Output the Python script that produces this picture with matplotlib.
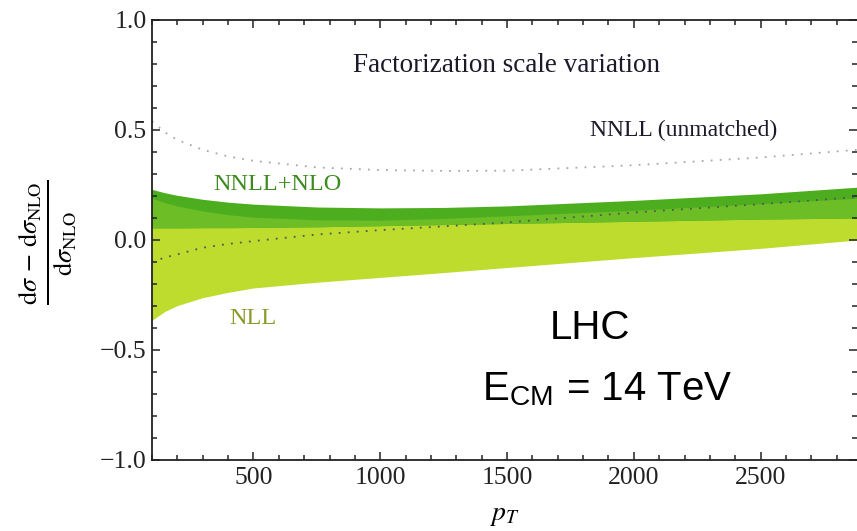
import numpy as np
import matplotlib
matplotlib.use("Agg")
import matplotlib.pyplot as plt
from matplotlib.ticker import MultipleLocator

# transverse momentum grid (GeV)
pt = [100, 150, 200, 300, 400, 500, 750, 1000, 1250, 1500, 2000, 2500, 2880]

# NNLL+NLO band (factorization scale variation)
nnll_nlo_hi = [0.230, 0.215, 0.203, 0.185, 0.172, 0.163, 0.150, 0.146, 0.148, 0.155, 0.180, 0.210, 0.240]
nnll_nlo_lo = [0.055, 0.055, 0.055, 0.056, 0.056, 0.057, 0.060, 0.065, 0.070, 0.075, 0.085, 0.095, 0.100]

# NLL band
nll_hi = [0.190, 0.170, 0.155, 0.132, 0.115, 0.104, 0.092, 0.090, 0.098, 0.110, 0.135, 0.165, 0.190]
nll_lo = [-0.365, -0.325, -0.298, -0.262, -0.238, -0.218, -0.192, -0.170, -0.148, -0.125, -0.080, -0.038, 0.000]

# dotted curves
nnll_unmatched = [0.540, 0.490, 0.455, 0.410, 0.380, 0.360, 0.330, 0.318, 0.314, 0.315, 0.340, 0.375, 0.410]
nll_central = [-0.100, -0.080, -0.065, -0.035, -0.018, -0.005, 0.025, 0.045, 0.062, 0.080, 0.125, 0.163, 0.195]

x_ticks = [500, 1000, 1500, 2000, 2500]
y_ticks = [-1.0, -0.5, 0.0, 0.5, 1.0]

plt.rcParams['mathtext.fontset'] = 'stix'
serif = 'Liberation Serif'

fig = plt.figure(figsize=(8.57, 5.31), dpi=100)
ax = fig.add_axes([152/857, 1 - 460/531, 1 - 152/857, (460 - 20)/531])

c_dark = '#4cae1e'
c_mid = '#6cbd26'
c_light = '#bddc2d'

x = np.array(pt)
ax.fill_between(x, nll_lo, nll_hi, color=c_light, lw=0)
ax.fill_between(x, nnll_nlo_lo, nnll_nlo_hi, color=c_dark, lw=0)
ov_lo = np.maximum(nll_lo, nnll_nlo_lo)
ov_hi = np.minimum(nll_hi, nnll_nlo_hi)
ax.fill_between(x, ov_lo, ov_hi, where=ov_hi > ov_lo, color=c_mid, lw=0)

ax.plot(x, nnll_unmatched, color='#a8a8a8', lw=1.3, ls=(0, (1, 4)))
ax.plot(x, nll_central, color='#555555', lw=1.3, ls=(0, (1, 4)))

ax.set_xlim(100, 2880)
ax.set_ylim(-1.0, 1.0)
ax.set_xticks(x_ticks)
ax.set_yticks(y_ticks)
ax.xaxis.set_minor_locator(MultipleLocator(100))
ax.yaxis.set_minor_locator(MultipleLocator(0.1))
ax.set_xticklabels([str(v) for v in x_ticks], fontfamily=serif, fontsize=18.5)
ax.set_yticklabels(['\u22121.0', '\u22120.5', '0.0', '0.5', '1.0'], fontfamily=serif, fontsize=18.5)
ax.tick_params(which='both', direction='in', top=True, right=True, width=1.1, colors='#222222')
ax.tick_params(axis='y', which='major', length=6, pad=4)
ax.tick_params(axis='x', which='major', length=6, pad=5)
ax.tick_params(which='minor', length=3.5)
for s in ['left', 'bottom', 'top']:
    ax.spines[s].set_linewidth(1.3)
    ax.spines[s].set_color('#222222')
ax.spines['right'].set_visible(False)

ax.set_xlabel(r'$p_T$', fontsize=20, labelpad=8)
ax.set_ylabel(r'$\frac{\mathrm{d}\sigma\,-\,\mathrm{d}\sigma_{\mathrm{NLO}}}{\mathrm{d}\sigma_{\mathrm{NLO}}}$',
              fontsize=27, va='center', ha='center')
ax.yaxis.set_label_coords((48 - 152) / 705, (460 - 242) / 440)

ax.text(1498, 0.795, 'Factorization scale variation', fontfamily=serif, fontsize=19.5,
        ha='center', va='center', color='#1a1a2a')
ax.text(2198, 0.50, 'NNLL (unmatched)', fontfamily=serif, fontsize=17,
        ha='center', va='center', color='#1a1a2a')
ax.text(595, 0.25, 'NNLL+NLO', fontfamily=serif, fontsize=17.5,
        ha='center', va='center', color='#3d8a1e')
ax.text(498, -0.355, 'NLL', fontfamily=serif, fontsize=17.5,
        ha='center', va='center', color='#8a9a2a')

ax.text(1827, -0.40, 'LHC', fontfamily='Liberation Sans', fontsize=29,
        ha='center', va='center', color='black')
ax.text(1897, -0.68, r'E$_{\mathregular{CM}}$ = 14 TeV', fontfamily='Liberation Sans', fontsize=29,
        ha='center', va='center', color='black')

fig.savefig('out.png', dpi=100)
